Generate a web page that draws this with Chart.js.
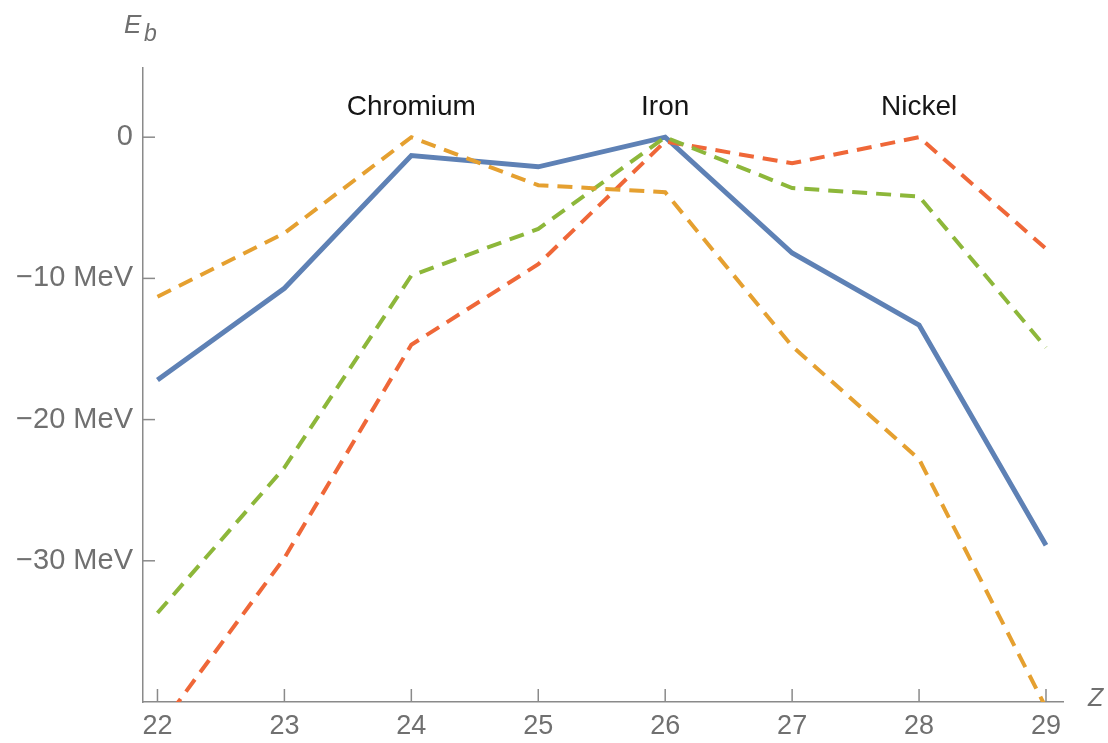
<!DOCTYPE html>
<html lang="en">
    <head>
        <meta charset="UTF-8" />
        <title>Binding energy vs Z</title>
        <script src="https://cdn.jsdelivr.net/npm/chart.js"></script>
        <style>
            html, body { margin: 0; padding: 0; background: #fff; }
            #wrap { width: 1108px; height: 743px; }
        </style>
    </head>
    <body>
        <div id="wrap"><canvas id="ebChart" width="1108" height="743"></canvas></div>

        <script>
            // proton number Z on the x axis
            const zValues = [22, 23, 24, 25, 26, 27, 28, 29];
            // binding energy relative to the best isotope (MeV)
            const solidSeries = [-17.2, -10.7, -1.3, -2.1, 0, -8.2, -13.3, -28.9];
            const orangeSeries = [-11.3, -6.8, 0, -3.4, -3.9, -14.8, -22.8, -40.4];
            const greenSeries = [-33.7, -23.4, -9.8, -6.5, 0, -3.6, -4.2, -14.9];
            const redSeries = [-42.0, -29.8, -14.7, -9.0, -0.3, -1.85, 0, -7.9];

            const yTicks = [0, -10, -20, -30];
            const yTickLabels = ["0", "\u221210 MeV", "\u221220 MeV", "\u221230 MeV"];
            const elementNames = ["Chromium", "Iron", "Nickel"];
            const elementZ = [24, 26, 28];

            const axisGray = "#8a8a8a";
            const fontFamily = "Liberation Sans, Arial, sans-serif";

            function toPoints(ys) {
                return zValues.map((z, i) => ({ x: z, y: ys[i] }));
            }

            // Mathematica style: tick marks pointing into the plot, plus labels
            const decorPlugin = {
                id: "decor",
                afterDatasetsDraw(chart) {
                    const { ctx, chartArea, scales } = chart;
                    const xs = scales.x, ys = scales.y;
                    ctx.save();
                    ctx.strokeStyle = axisGray;
                    ctx.lineWidth = 1.5;
                    yTicks.forEach((v) => {
                        const py = ys.getPixelForValue(v);
                        ctx.beginPath();
                        ctx.moveTo(chartArea.left, py);
                        ctx.lineTo(chartArea.left + 12, py);
                        ctx.stroke();
                    });
                    zValues.forEach((v) => {
                        const px = xs.getPixelForValue(v);
                        ctx.beginPath();
                        ctx.moveTo(px, chartArea.bottom);
                        ctx.lineTo(px, chartArea.bottom - 13);
                        ctx.stroke();
                    });

                    ctx.fillStyle = "#151515";
                    ctx.font = "28px " + fontFamily;
                    ctx.textAlign = "center";
                    ctx.textBaseline = "middle";
                    elementNames.forEach((name, i) => {
                        ctx.fillText(name, xs.getPixelForValue(elementZ[i]), ys.getPixelForValue(2.1));
                    });

                    // axis labels
                    ctx.fillStyle = "#6f6f6f";
                    ctx.textAlign = "left";
                    ctx.textBaseline = "alphabetic";
                    ctx.font = "italic 26px " + fontFamily;
                    ctx.fillText("E", chartArea.left - 19, 33);
                    ctx.font = "italic 23px " + fontFamily;
                    ctx.fillText("b", chartArea.left + 1, 41);
                    ctx.font = "italic 25px " + fontFamily;
                    ctx.fillText("Z", chartArea.right + 25, chartArea.bottom + 4);
                    ctx.restore();
                },
            };

            function dashed(label, data, color) {
                return {
                    label: label,
                    data: toPoints(data),
                    borderColor: color,
                    borderWidth: 4,
                    borderDash: [15, 9],
                    pointRadius: 0,
                    fill: false,
                    tension: 0,
                };
            }

            new Chart(document.getElementById("ebChart"), {
                type: "line",
                data: {
                    datasets: [
                        dashed("orange", orangeSeries, "#E5A030"),
                        dashed("green", greenSeries, "#8DB73A"),
                        dashed("red", redSeries, "#EF6738"),
                        {
                            label: "solid",
                            data: toPoints(solidSeries),
                            borderColor: "#5E81B5",
                            borderWidth: 5,
                            pointRadius: 0,
                            fill: false,
                            tension: 0,
                        },
                    ],
                },
                options: {
                    responsive: false,
                    animation: false,
                    layout: { padding: { top: 68, right: 45, left: 0, bottom: 0 } },
                    plugins: {
                        legend: { display: false },
                        tooltip: { enabled: false },
                    },
                    scales: {
                        x: {
                            type: "linear",
                            min: 21.886,
                            max: 29.134,
                            afterBuildTicks: (scale) => {
                                scale.ticks = zValues.map((v) => ({ value: v }));
                            },
                            afterFit: (scale) => {
                                scale.height = 41;
                            },
                            grid: { drawOnChartArea: false, drawTicks: false },
                            border: { display: true, color: axisGray, width: 1.5 },
                            ticks: {
                                color: "#707070",
                                font: { family: fontFamily, size: 27 },
                                padding: 8,
                                maxRotation: 0,
                                autoSkip: false,
                                callback: (v) => String(v),
                            },
                        },
                        y: {
                            type: "linear",
                            min: -40,
                            max: 4.9,
                            afterBuildTicks: (scale) => {
                                scale.ticks = yTicks.map((v) => ({ value: v }));
                            },
                            afterFit: (scale) => {
                                scale.width = 143;
                            },
                            grid: { drawOnChartArea: false, drawTicks: false },
                            border: { display: true, color: axisGray, width: 1.5 },
                            ticks: {
                                color: "#707070",
                                font: { family: fontFamily, size: 29 },
                                padding: 10,
                                autoSkip: false,
                                callback: (v, i) => yTickLabels[i],
                            },
                        },
                    },
                },
                plugins: [decorPlugin],
            });
        </script>
    </body>
</html>
